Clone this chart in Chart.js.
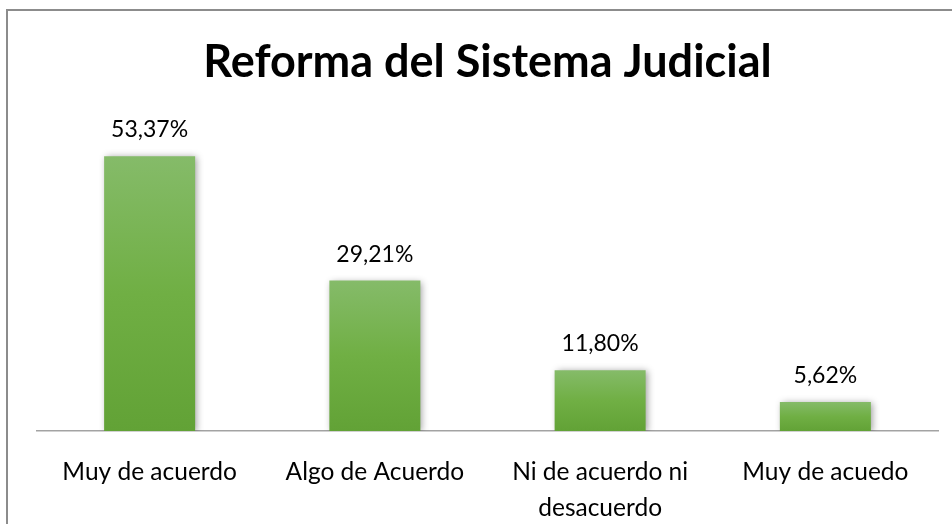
<!DOCTYPE html>
<html>
<head>
<meta charset="utf-8">
<script src="https://cdn.jsdelivr.net/npm/chart.js@4/dist/chart.umd.min.js"></script>
<style>
  html, body { margin: 0; padding: 0; background: #fff; }
  #wrap { position: relative; width: 952px; height: 524px; overflow: hidden; }
  #frame { position: absolute; left: 6px; top: 9px; width: 960px; height: 540px;
           border-left: 2px solid #8c8c8c; border-top: 2px solid #8c8c8c; box-sizing: border-box; }
  canvas { position: absolute; left: 0; top: 0; }
</style>
</head>
<body>
<div id="wrap">
  <div id="frame"></div>
  <canvas id="c" width="952" height="524"></canvas>
</div>
<script>
const categories = [
  'Muy de acuerdo',
  'Algo de Acuerdo',
  ['Ni de acuerdo ni', 'desacuerdo'],
  'Muy de acuedo'
];
const values = [53.37, 29.21, 11.80, 5.62];
const valueLabels = ['53,37%', '29,21%', '11,80%', '5,62%'];
const chartTitle = 'Reforma del Sistema Judicial';
const yMin = 0;
const yMax = 60;

const FONT = 'Lato, "Open Sans", sans-serif';

const barGradient = (ctx) => {
  const chart = ctx.chart;
  const y = chart.scales && chart.scales.y;
  if (!chart.chartArea || !y || ctx.raw === undefined) return '#6eae42';
  const top = y.getPixelForValue(ctx.raw);
  const bottom = y.getPixelForValue(0);
  const g = chart.ctx.createLinearGradient(0, top, 0, bottom);
  g.addColorStop(0, '#85bb69');
  g.addColorStop(0.5, '#70af44');
  g.addColorStop(1, '#62a236');
  return g;
};

const shadowPlugin = {
  id: 'barShadow',
  beforeDatasetDraw(chart) {
    const c = chart.ctx;
    c.save();
    c.shadowColor = 'rgba(0,0,0,0.38)';
    c.shadowBlur = 7;
    c.shadowOffsetX = 2;
    c.shadowOffsetY = 1;
  },
  afterDatasetDraw(chart) {
    chart.ctx.restore();
  }
};

const valueLabelPlugin = {
  id: 'valueLabels',
  afterDatasetsDraw(chart) {
    const c = chart.ctx;
    const meta = chart.getDatasetMeta(0);
    c.save();
    c.font = '23px ' + FONT;
    c.fillStyle = '#000';
    c.textAlign = 'center';
    c.textBaseline = 'alphabetic';
    meta.data.forEach((bar, i) => {
      c.fillText(valueLabels[i], bar.x, bar.y - 19);
    });
    c.restore();
  }
};

new Chart(document.getElementById('c'), {
  type: 'bar',
  data: {
    labels: categories,
    datasets: [{
      data: values,
      backgroundColor: barGradient,
      borderWidth: 0,
      categoryPercentage: 1.0,
      barPercentage: 0.404
    }]
  },
  options: {
    responsive: false,
    devicePixelRatio: 1,
    animation: false,
    layout: { padding: { left: 37, right: 14, top: 0, bottom: 0 } },
    plugins: {
      legend: { display: false },
      tooltip: { enabled: false },
      title: {
        display: true,
        text: chartTitle,
        color: '#000',
        font: { family: FONT, size: 45, weight: 'bold', lineHeight: 1.2 },
        padding: { top: 35, bottom: 33 }
      }
    },
    scales: {
      y: { display: false, min: yMin, max: yMax },
      x: {
        grid: { display: false },
        border: { display: true, color: '#a3a3a3', width: 1.5 },
        ticks: {
          color: '#000',
          font: { family: FONT, size: 24.5, lineHeight: 1.47 },
          padding: 15,
          maxRotation: 0,
          autoSkip: false
        },
        afterFit(scale) { scale.height = 93; }
      }
    }
  },
  plugins: [shadowPlugin, valueLabelPlugin]
});
</script>
</body>
</html>
